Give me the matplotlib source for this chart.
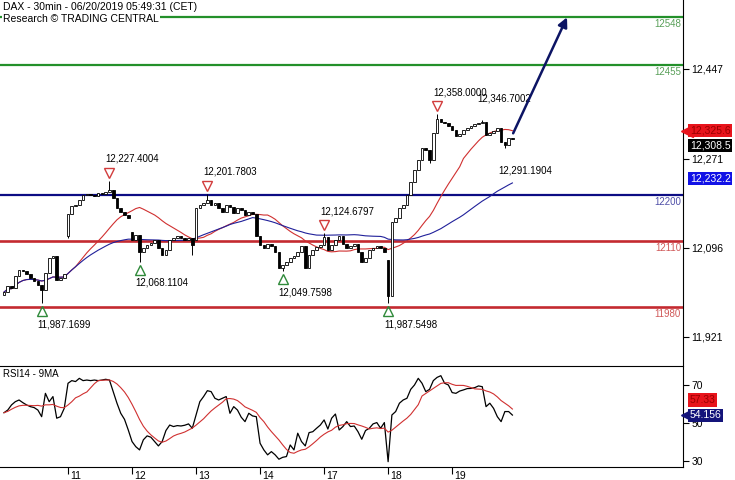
import numpy as np
import pandas as pd
import matplotlib
matplotlib.use('Agg')
import matplotlib.pyplot as plt
from matplotlib.transforms import blended_transform_factory, offset_copy

plt.rcParams['font.family'] = ['Liberation Sans', 'DejaVu Sans']

day_labels = ['11', '12', '13', '14', '17', '18', '19']
bars_per_day = 17

# 30 min closes, 10th -> 19th June (17 bars a day)
closes = [
    12009, 12021, 12017, 12041, 12052, 12050, 12045, 12037, 12031, 12023, 12013, 12047, 12076, 12080, 12033, 12037, 12045,
    12162, 12178, 12180, 12190, 12200, 12202, 12200, 12198, 12204, 12202, 12206, 12209, 12194, 12174, 12166, 12160, 12155,
    12111, 12121, 12088, 12096, 12102, 12105, 12111, 12096, 12082, 12092, 12111, 12115, 12119, 12115, 12111, 12115, 12102,
    12174, 12180, 12184, 12190, 12180, 12184, 12174, 12166, 12180, 12176, 12164, 12174, 12170, 12160, 12166, 12162, 12119,
    12102, 12096, 12103, 12100, 12088, 12056, 12062, 12068, 12076, 12080, 12088, 12100, 12056, 12082, 12092, 12098, 12102,
    12117, 12092, 12102, 12111, 12119, 12103, 12096, 12100, 12103, 12088, 12068, 12076, 12092, 12096, 12100, 12096, 12088,
    12001, 12147, 12154, 12174, 12180, 12200, 12225, 12249, 12268, 12292, 12288, 12268, 12321, 12348, 12343, 12341, 12335,
    12327, 12316, 12319, 12327, 12331, 12335, 12339, 12341, 12343, 12317, 12321, 12325, 12331, 12304, 12298, 12311, 12308.5,
]
gap_opens = {0: 12003, 17: 12119, 34: 12127, 51: 12111, 102: 12072}
bar_highs = {28: 12227.4004, 54: 12201.7803, 85: 12124.6797, 115: 12358.0, 127: 12346.7002}
bar_lows = {10: 11987.1699, 17: 12115, 36: 12068.1104, 50: 12082, 74: 12049.7598,
            102: 11987.5498, 113: 12262, 133: 12291.1904}

rsi14 = [
    55.4, 56.8, 59.5, 61.2, 62.1, 60.7, 59.5, 58.6, 58.1, 56.8, 53.3, 65.6, 61.2, 63.9, 52.5, 53.3, 57.7,
    70.9, 72.3, 71.8, 73.5, 72.3, 72.6, 72.3, 72.6, 72.3, 72.6, 73.0, 72.6, 66.5, 60.4, 55.1, 51.9, 46.3,
    40.2, 37.5, 35.8, 41.1, 43.2, 42.5, 40.2, 37.9, 40.2, 46.0, 48.9, 48.1, 48.6, 48.4, 48.8, 49.5, 47.2,
    54.2, 61.2, 63.9, 67.0, 66.5, 63.0, 62.1, 63.0, 63.9, 55.1, 58.6, 56.8, 53.0, 50.7, 55.1, 53.7, 53.3,
    39.3, 35.8, 33.2, 34.9, 33.2, 30.9, 31.9, 32.3, 38.4, 35.8, 44.6, 40.2, 37.9, 44.9, 45.4, 47.2, 48.9,
    51.6, 46.8, 52.5, 54.7, 46.3, 48.1, 50.7, 48.1, 48.4, 45.4, 41.4, 46.0, 47.2, 49.5, 50.2, 47.2, 50.2,
    29.6, 54.2, 56.0, 60.4, 62.1, 63.0, 67.7, 70.0, 73.5, 70.9, 66.5, 67.7, 72.3, 74.0, 74.9, 70.9, 70.0,
    66.0, 65.6, 66.8, 67.4, 68.1, 68.2, 68.6, 69.5, 69.1, 58.6, 60.4, 57.7, 53.3, 50.7, 56.0, 56.0, 54.156,
]

levels = [12548, 12455, 12200, 12110, 11980]
level_colors = ['#23902a', '#23902a', '#0c0c84', '#c42a30', '#c42a30']
level_text = ['#5aa05a', '#5aa05a', '#5050a8', '#d05a5a', '#d05a5a']

peak_bars = [28, 54, 85, 115]
trough_bars = [10, 36, 74, 102]
plain_high = 127
plain_low = 133

price_ticks = [11921, 12096, 12271, 12447]
rsi_ticks = [30, 50, 70]
blue_ma_label = '12,232.2'

# ---------------------------------------------------------------
c = np.array(closes, dtype=float)
n = len(c)
x = np.arange(n)
o = np.r_[c[0], c[:-1]]
for k, v in gap_opens.items():
    o[k] = v
hi = np.maximum(o, c)
lo = np.minimum(o, c)
for k, v in bar_highs.items():
    hi[k] = v
for k, v in bar_lows.items():
    lo[k] = v

ma_fast = pd.Series(c).rolling(20, min_periods=1).mean().values
ma_slow = pd.Series(c).rolling(50, min_periods=1).mean().values
rsi = np.array(rsi14)
rsi_ma = pd.Series(rsi).rolling(9, min_periods=1).mean().values

fig = plt.figure(figsize=(7.35, 4.8), dpi=100)
ax = fig.add_axes([0, 115 / 480, 683 / 735, 365 / 480])
ax2 = fig.add_axes([0, 13 / 480, 683 / 735, 101 / 480])

xl = (-1.06, 180.3)
for a in (ax, ax2):
    a.set_xlim(*xl)
    a.spines['left'].set_visible(False)
    a.yaxis.tick_right()
    a.tick_params(axis='y', direction='out', length=4, width=0.8, pad=2, labelsize=7.5)
ax.spines['top'].set_visible(False)
ax.spines['bottom'].set_visible(False)
ax.set_xticks([])
ax.set_ylim(11866, 12582)

# horizontal levels
for lv, col, tc in zip(levels, level_colors, level_text):
    ax.axhline(lv, color=col, lw=1.6 if col != '#c42a30' else 1.9, zorder=1)
    ax.annotate(f'{lv}', xy=(1, lv), xycoords=ax.get_yaxis_transform(),
                xytext=(-2, -7), textcoords='offset pixels', ha='right', va='center',
                fontsize=7, color=tc)

# moving averages
ax.plot(x, ma_fast, color='#d03030', lw=0.8, zorder=2)
ax.plot(x, ma_slow, color='#20209a', lw=0.8, zorder=2)

# candles
up = c >= o
ax.vlines(x, lo, hi, color='black', lw=0.7, zorder=3)
body = np.maximum(np.abs(c - o), 1.2)
bottom = np.minimum(o, c)
ax.bar(x[up], body[up], bottom=bottom[up], width=0.7, facecolor='white',
       edgecolor='black', lw=0.6, zorder=4)
ax.bar(x[~up], body[~up], bottom=bottom[~up], width=0.7, facecolor='black',
       edgecolor='black', lw=0.6, zorder=4)

# swing markers
tri_up = offset_copy(ax.transData, fig=fig, y=8, units='dots')
tri_dn = offset_copy(ax.transData, fig=fig, y=-8, units='dots')
for k in peak_bars:
    ax.plot(k, hi[k], marker='v', ms=7, mfc='none', mec='#d23c3c', mew=1.0, transform=tri_up, zorder=5)
    ax.annotate(f'{hi[k]:,.4f}', xy=(k, hi[k]), xytext=(-4, 22), textcoords='offset pixels',
                ha='left', va='center', fontsize=7)
for k in trough_bars:
    ax.plot(k, lo[k], marker='^', ms=7, mfc='none', mec='#2f8a3a', mew=1.0, transform=tri_dn, zorder=5)
    ax.annotate(f'{lo[k]:,.4f}', xy=(k, lo[k]), xytext=(-4, -21), textcoords='offset pixels',
                ha='left', va='center', fontsize=7)
ax.annotate(f'{hi[plain_high]:,.4f}', xy=(plain_high, hi[plain_high]), xytext=(-5, 21),
            textcoords='offset pixels', ha='left', va='center', fontsize=7)
ax.annotate(f'{lo[plain_low]:,.4f}', xy=(plain_low, lo[plain_low]), xytext=(-7, -22),
            textcoords='offset pixels', ha='left', va='center', fontsize=7)

# target arrow
ax.annotate('', xy=(n - 1 + 14.5, levels[0]), xytext=(n - 1 + 0.2, c[-1] + 12),
            arrowprops=dict(arrowstyle='-|>', color='#0c1464', lw=1.8,
                            mutation_scale=14, shrinkA=0, shrinkB=0), zorder=6)

ax.set_yticks(price_ticks)
ax.set_yticklabels([f'{t:,}' for t in price_ticks])


def value_box(a, yval, text, fc, tc, dy=0, pointer=False):
    tr = a.get_yaxis_transform()
    a.annotate(text, xy=(1, yval), xycoords=tr, xytext=(7, dy), textcoords='offset pixels',
               ha='left', va='center', fontsize=7.5, color=tc, zorder=10,
               bbox=dict(boxstyle='square,pad=0.15', fc=fc, ec='none'), annotation_clip=False)
    if pointer:
        pt = offset_copy(tr, fig=fig, x=4, y=dy, units='dots')
        a.plot(1, yval, marker='<', ms=9, color=fc, transform=pt, clip_on=False, zorder=9)


value_box(ax, ma_fast[-1], f'{ma_fast[-1]:,.1f}', '#e8141c', '#9a0000', 0, True)
value_box(ax, c[-1], f'{c[-1]:,.1f}', 'black', 'white', -6)
value_box(ax, 12232.2, blue_ma_label, '#1212e6', 'white', 0)

# RSI panel
ax2.set_ylim(26.8, 80)
ax2.plot(x, rsi, color='black', lw=0.9)
ax2.plot(x, rsi_ma, color='#d03030', lw=0.8)
ax2.set_yticks(rsi_ticks)
ax2.set_yticklabels([str(t) for t in rsi_ticks])
day_pos = [bars_per_day * (k + 1) for k in range(len(day_labels))]
ax2.set_xticks(day_pos)
ax2.set_xticklabels([])
ax2.tick_params(axis='x', direction='out', length=5, width=0.8)
for p, lab in zip(day_pos, day_labels):
    ax2.annotate(lab, xy=(p, 0), xycoords=ax2.get_xaxis_transform(), xytext=(2, -4),
                 textcoords='offset pixels', ha='left', va='top', fontsize=7.5,
                 annotation_clip=False)
value_box(ax2, rsi_ma[-1], f'{rsi_ma[-1]:.2f}', '#e8141c', '#9a0000', 9)
value_box(ax2, rsi[-1], f'{rsi[-1]:.3f}', '#14147a', 'white', 0, True)
ax2.text(3 / 683, 0.92, 'RSI14 - 9MA', transform=ax2.transAxes, fontsize=7, va='center')

fig.text(3 / 735, 1 - 7 / 480, 'DAX - 30min - 06/20/2019 05:49:31 (CET)', fontsize=7.5, va='center')
fig.text(3 / 735, 1 - 19 / 480, 'Research \u00a9 TRADING CENTRAL', fontsize=7.5, va='center',
         bbox=dict(boxstyle='square,pad=0.1', fc='white', ec='none'), zorder=10)

fig.savefig('out.png', dpi=100)
